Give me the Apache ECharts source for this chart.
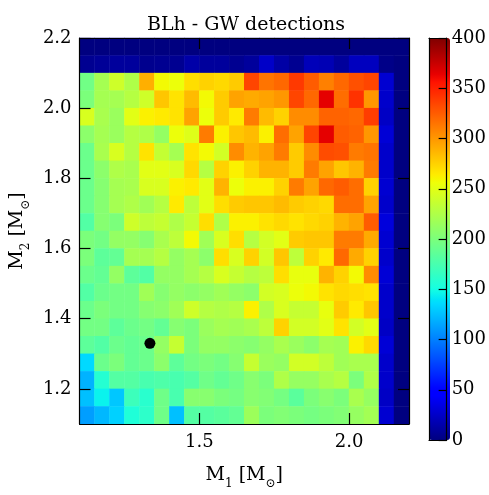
<!DOCTYPE html>
<html>
<head>
<meta charset="utf-8">
<script src="https://cdn.jsdelivr.net/npm/echarts@6/dist/echarts.min.js"></script>
<style>html,body{margin:0;padding:0;background:#fff}#c{width:489px;height:495px}</style>
</head>
<body>
<div id="c"></div>
<script>
// Bin lower edges (bin width 0.05)
const m1Bins = ['1.10','1.15','1.20','1.25','1.30','1.35','1.40','1.45','1.50','1.55','1.60','1.65','1.70','1.75','1.80','1.85','1.90','1.95','2.00','2.05','2.10','2.15'];
const m2Bins = ['1.10','1.15','1.20','1.25','1.30','1.35','1.40','1.45','1.50','1.55','1.60','1.65','1.70','1.75','1.80','1.85','1.90','1.95','2.00','2.05','2.10','2.15'];
// GW detections per cell, rows listed from top (M2=2.15) to bottom (M2=1.10), columns M1=1.10..2.15
const counts = [
  [0,0,0,0,0,0,0,0,0,0,0,0,0,0,0,0,0,0,0,0,0,0],
  [6,8,10,10,5,6,6,14,10,10,6,10,25,13,6,20,18,10,22,22,3,0],
  [195,220,240,225,290,258,255,270,275,272,278,335,315,320,340,325,310,320,330,335,28,0],
  [200,220,220,228,240,280,268,285,258,278,295,292,295,300,335,320,365,318,343,300,26,0],
  [245,222,215,250,262,265,268,295,255,278,265,312,285,275,305,305,322,322,320,338,24,0],
  [208,220,215,228,225,212,255,248,312,262,280,285,262,318,295,335,365,325,322,300,30,0],
  [192,222,245,228,268,235,220,268,258,242,305,288,295,312,278,305,332,330,312,315,26,0],
  [192,208,225,222,250,250,245,272,228,275,262,275,288,288,278,312,295,280,288,312,26,0],
  [192,205,220,222,245,245,262,265,250,288,255,262,262,275,312,295,320,325,318,275,28,0],
  [192,205,220,225,218,228,265,232,250,270,278,280,280,285,278,275,272,318,318,295,26,0],
  [180,205,200,240,232,236,225,236,270,225,262,262,268,272,268,272,275,288,295,325,32,0],
  [200,196,212,212,205,222,232,258,218,245,270,228,242,250,278,280,280,312,312,292,28,0],
  [200,185,188,220,220,228,212,220,208,270,245,275,242,280,232,275,265,320,292,275,26,0],
  [192,188,212,185,180,212,212,220,228,245,236,228,232,270,253,253,288,275,258,305,30,0],
  [180,192,196,196,218,205,212,208,212,218,212,208,242,245,255,258,268,272,270,268,26,0],
  [192,200,196,196,205,208,218,240,228,225,228,262,225,245,236,236,253,278,265,280,26,0],
  [196,196,185,192,196,188,205,200,215,220,218,222,232,275,242,242,250,268,242,250,24,0],
  [185,180,192,188,192,212,236,200,212,212,208,205,212,222,215,208,220,218,262,272,30,0],
  [135,192,200,188,192,208,185,196,200,196,205,236,215,212,242,242,232,218,222,222,26,0],
  [120,158,181,181,175,178,175,181,194,188,194,206,200,225,213,213,222,228,200,225,26,0],
  [125,145,128,169,160,194,175,206,206,200,197,206,203,197,184,200,206,200,222,213,24,0],
  [112,122,132,155,162,194,125,181,181,184,188,216,200,203,200,197,200,203,213,219,28,0]
];
const marker = [[1.335, 1.33]];
const xTicks = [1.5, 2.0];
const yTicks = [1.2, 1.4, 1.6, 1.8, 2.0, 2.2];
const cbMin = 0, cbMax = 400, cbStep = 50;

// matplotlib "jet" colormap segment definitions
const jetSeg = {
  r: [[0,0],[0.35,0],[0.66,1],[0.89,1],[1,0.5]],
  g: [[0,0],[0.125,0],[0.375,1],[0.64,1],[0.91,0],[1,0]],
  b: [[0,0.5],[0.11,1],[0.34,1],[0.65,0],[1,0]]
};
function segVal(seg, t) {
  for (let i = 1; i < seg.length; i++) {
    if (t <= seg[i][0]) {
      const [x0, y0] = seg[i-1], [x1, y1] = seg[i];
      return y0 + (y1 - y0) * (t - x0) / (x1 - x0);
    }
  }
  return seg[seg.length-1][1];
}
const jet = [];
for (let i = 0; i <= 200; i++) {
  const t = i / 200;
  const c = ['r','g','b'].map(k => Math.round(255 * segVal(jetSeg[k], t)));
  jet.push('rgb(' + c.join(',') + ')');
}

const heat = [];
const nRows = counts.length;
counts.forEach((row, r) => {
  const yi = nRows - 1 - r;
  row.forEach((v, xi) => heat.push([xi, yi, v]));
});

const FF = 'DejaVu Serif';
const lineStyle = {color: '#000', width: 1.2};
const richName = {
  n: {fontFamily: FF, fontSize: 19, color: '#000', verticalAlign: 'bottom', padding: [0,0,5,0]},
  s: {fontFamily: FF, fontSize: 12, color: '#000', verticalAlign: 'bottom', padding: [0,0,0,0]}
};
const frameAxis = (pos, grid) => ({
  type: 'value', gridIndex: grid, position: pos, min: 0, max: 1, z: 10,
  axisLine: {show: true, onZero: false, lineStyle},
  axisTick: {show: false}, axisLabel: {show: false}, splitLine: {show: false}
});

const chart = echarts.init(document.getElementById('c'), null, {renderer: 'canvas'});
chart.setOption({
  animation: false,
  backgroundColor: '#fff',
  title: {
    text: 'BLh - GW detections', left: 241, top: 11, textAlign: 'center',
    textStyle: {fontFamily: FF, fontSize: 19, fontWeight: 'normal', color: '#000'}
  },
  grid: [
    {left: 74, top: 38, width: 335, height: 402},
    {left: 429, top: 38, width: 21, height: 402}
  ],
  xAxis: [
    {type: 'category', gridIndex: 0, data: m1Bins, show: false},
    {type: 'value', gridIndex: 0, position: 'bottom', min: 1.1, max: 2.2, z: 10,
     axisLine: {show: true, onZero: false, lineStyle},
     axisTick: {show: true, inside: true, length: 11, customValues: xTicks, lineStyle},
     axisLabel: {customValues: xTicks, formatter: v => v.toFixed(1), fontFamily: FF, fontSize: 18, color: '#000', margin: 9},
     splitLine: {show: false},
     name: '{n|M}{s|1}{n| [M}{s|⊙}{n|]}', nameLocation: 'middle', nameGap: 42,
     nameTextStyle: {rich: richName}},
    {type: 'value', gridIndex: 0, position: 'top', min: 1.1, max: 2.2, z: 10,
     axisLine: {show: true, onZero: false, lineStyle},
     axisTick: {show: true, inside: true, length: 11, customValues: xTicks, lineStyle},
     axisLabel: {show: false}, splitLine: {show: false}},
    frameAxis('bottom', 1),
    frameAxis('top', 1)
  ],
  yAxis: [
    {type: 'category', gridIndex: 0, data: m2Bins, show: false},
    {type: 'value', gridIndex: 0, position: 'left', min: 1.1, max: 2.2, z: 10,
     axisLine: {show: true, onZero: false, lineStyle},
     axisTick: {show: true, inside: true, length: 11, customValues: yTicks, lineStyle},
     axisLabel: {customValues: yTicks, formatter: v => v.toFixed(1), fontFamily: FF, fontSize: 18, color: '#000', margin: 8, showMaxLabel: true},
     splitLine: {show: false},
     name: '{n|M}{s|2}{n| [M}{s|⊙}{n|]}', nameLocation: 'middle', nameGap: 46, nameRotate: 90,
     nameTextStyle: {rich: richName}},
    {type: 'value', gridIndex: 0, position: 'right', min: 1.1, max: 2.2, z: 10,
     axisLine: {show: true, onZero: false, lineStyle},
     axisTick: {show: true, inside: true, length: 11, customValues: yTicks, lineStyle},
     axisLabel: {show: false}, splitLine: {show: false}},
    frameAxis('left', 1),
    {type: 'value', gridIndex: 1, position: 'right', min: cbMin, max: cbMax, interval: cbStep, z: 10,
     axisLine: {show: true, onZero: false, lineStyle},
     axisTick: {show: true, inside: true, length: 8, lineStyle},
     axisLabel: {fontFamily: FF, fontSize: 18, color: '#000', margin: 5, showMaxLabel: true, showMinLabel: true},
     splitLine: {show: false}}
  ],
  visualMap: {
    type: 'continuous', min: cbMin, max: cbMax, seriesIndex: 0, calculable: false,
    orient: 'vertical', left: 429, top: 38, itemWidth: 21, itemHeight: 402, padding: 0,
    inRange: {color: jet}, text: null, showLabel: false, hoverLink: false
  },
  series: [
    {type: 'heatmap', xAxisIndex: 0, yAxisIndex: 0, data: heat, progressive: 0,
     itemStyle: {borderWidth: 0}, emphasis: {disabled: true}},
    {type: 'scatter', xAxisIndex: 1, yAxisIndex: 1, data: marker, symbolSize: 11,
     itemStyle: {color: '#000', opacity: 1}, z: 5}
  ]
});
</script>
</body>
</html>
